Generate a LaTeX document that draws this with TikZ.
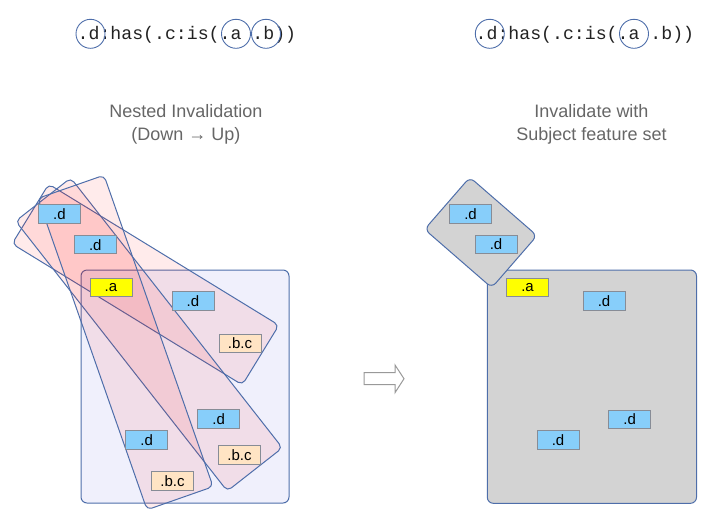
\documentclass[tikz,border=0pt]{standalone}
\usepackage{fontspec}
\setmainfont{Liberation Sans}
\setmonofont{Liberation Mono}
\usetikzlibrary{positioning}

\definecolor{edgeblue}{RGB}{78,110,170}
\definecolor{lblgray}{RGB}{135,140,150}
\definecolor{skyblue}{RGB}{135,206,250}
\definecolor{bisque}{RGB}{255,228,196}
\definecolor{hlyellow}{RGB}{255,255,0}
\definecolor{lavender}{RGB}{240,240,252}
\definecolor{boxgray}{RGB}{211,211,211}
\definecolor{titlegray}{RGB}{102,102,102}
\definecolor{codeblack}{RGB}{34,34,34}

\tikzset{
	lbl/.style={draw=lblgray, line width=1pt, minimum width=42pt, minimum height=18.5pt, inner sep=0pt, font=\fontsize{15}{15}\selectfont},
	dlbl/.style={lbl, fill=skyblue},
	albl/.style={lbl, fill=hlyellow},
	bclbl/.style={lbl, fill=bisque},
	grp/.style={draw=edgeblue, line width=1pt, rounded corners=6pt},
	band/.style={grp, rounded corners=5pt, fill=red, fill opacity=0.08, draw opacity=1, minimum height=70pt, inner sep=0pt},
	ring/.style={circle, draw=edgeblue, line width=0.9pt, minimum size=29pt, inner sep=0pt},
	code/.style={inner sep=0pt, text=codeblack, font=\ttfamily\fontsize{18.2}{18.2}\selectfont},
	title/.style={inner sep=0pt, text=titlegray, font=\fontsize{18}{22}\selectfont}
}

\begin{document}
\begin{tikzpicture}[x=1pt, y=-1pt]
		\useasboundingbox (0,0) rectangle (717,523);
		
		% selectors on top
		\node[code, anchor=base west] (fl) at (77.5,39.5) {.d:has(.c:is(.a .b))};
		\node[code, anchor=base west] (fr) at (475.5,39.5) {.d:has(.c:is(.a .b))};
		\node[ring] (cdl) at (90.5,33.8) {};
		\node[ring] (cal) at (236,33.8) {};
		\node[ring] (cbl) at (266,33.8) {};
		\node[ring] (cdr) at (489.8,33.8) {};
		\node[ring] (car) at (634,33.8) {};
		
		% titles
		\node[title, anchor=base] (tl1) at (186,117.7) {Nested Invalidation};
		\node[title, anchor=base] (tl2) at (186,140) {(Down → Up)};
		\node[title, anchor=base] (tr1) at (591.5,117.7) {Invalidate with};
		\node[title, anchor=base] (tr2) at (591.5,140) {Subject feature set};
		
		% left: nested groups
		\draw[grp, fill=lavender] (81,270) rectangle (289,503);
		\node[band, minimum width=270pt, rotate=-31.5] (b1) at (145.5,284.5) {};
		\node[band, minimum width=343pt, rotate=-51.9] (b2) at (149,334.5) {};
		\node[band, minimum width=330pt, rotate=-70.7] (b3) at (125.5,342.5) {};
		
		\node[dlbl] (d1) at (59.5,213.8) {.d};
		\node[dlbl] (d2) at (95.3,244.7) {.d};
		\node[albl] (a1) at (111,287.5) {.a};
		\node[dlbl] (d3) at (193,301) {.d};
		\node[bclbl] (bc1) at (240,343.3) {.b.c};
		\node[dlbl] (d4) at (218.7,419.2) {.d};
		\node[bclbl] (bc2) at (239.5,455.2) {.b.c};
		\node[dlbl] (d5) at (146.7,439.8) {.d};
		\node[bclbl] (bc3) at (172.5,481) {.b.c};
		
		% block arrow
		\draw[draw=gray!80, fill=white, line width=1pt, line join=miter]
			(364,372.7) -- (395,372.7) -- (395,365) -- (404,378.7) -- (395,392.7)
			-- (395,384.5) -- (364,384.5) -- cycle;
		
		% right: subject feature set
		\draw[grp, fill=boxgray] (487.3,270) rectangle (696.5,503.3);
		\node[grp, fill=boxgray, minimum width=89pt, minimum height=69pt, inner sep=0pt, rotate=-41] (sub) at (480.8,232.5) {};
		
		\node[dlbl] (e1) at (470.5,213.8) {.d};
		\node[dlbl] (e2) at (496,244.5) {.d};
		\node[albl] (e3) at (527.5,287.5) {.a};
		\node[dlbl] (e4) at (604,301) {.d};
		\node[dlbl] (e5) at (629.7,419.5) {.d};
		\node[dlbl] (e6) at (558,440) {.d};
	\end{tikzpicture}
\end{document}
